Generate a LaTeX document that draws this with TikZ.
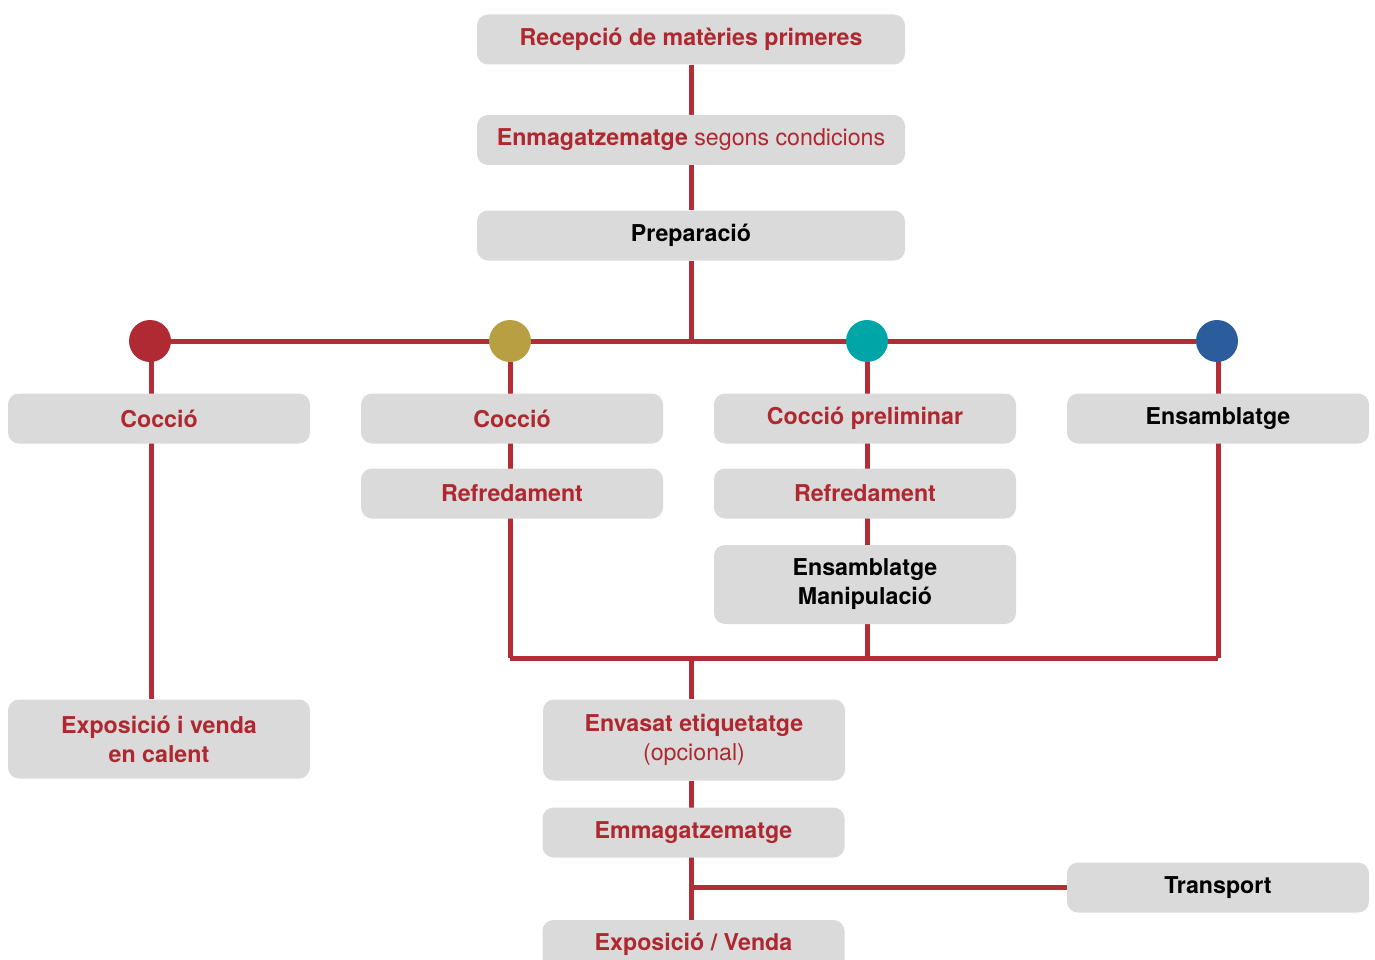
\documentclass[tikz,border=0pt]{standalone}
\usepackage{fontspec}
\setmainfont{TeX Gyre Heros}
\usetikzlibrary{backgrounds,calc}
\definecolor{linered}{HTML}{B22D35}
\definecolor{txtred}{HTML}{B0282F}
\definecolor{boxgray}{HTML}{DADADA}
\definecolor{dotred}{HTML}{B02A33}
\definecolor{dotolive}{HTML}{B8A042}
\definecolor{dotteal}{HTML}{00A5A8}
\definecolor{dotblue}{HTML}{2B5C9C}
\tikzset{
  stepbox/.style={fill=boxgray, rounded corners=11pt, inner sep=0pt, align=center,
    font=\fontsize{23.2}{29}\selectfont\bfseries},
  wide/.style={minimum width=428pt, minimum height=50pt},
  col/.style={minimum width=302pt, minimum height=50pt},
  tall/.style={minimum width=302pt, minimum height=79pt},
  redtxt/.style={text=txtred},
  blktxt/.style={text=black},
  dot/.style={circle, minimum size=42pt, inner sep=0pt},
  conn/.style={draw=linered, line width=5pt},
}
\begin{document}
\begin{tikzpicture}[x=1pt,y=-1pt]
\useasboundingbox (0,0) rectangle (1375,960);
\clip (0,0) rectangle (1375,960);
% top chain
\node[stepbox,wide,redtxt] (b1) at (691,39.5) {Recepció de matèries primeres};
\node[stepbox,wide,redtxt] (b2) at (691,140) {Enmagatzematge \mdseries segons condicions};
\node[stepbox,wide,blktxt] (b3) at (691,235.5) {Preparació};
% dots
\node[dot,fill=dotred] (d1) at (150,341) {};
\node[dot,fill=dotolive] (d2) at (510,341) {};
\node[dot,fill=dotteal] (d3) at (867,341) {};
\node[dot,fill=dotblue] (d4) at (1217,341) {};
% column 1
\node[stepbox,col,redtxt] (c1) at (159,418.5) {Cocció};
\node[stepbox,tall,redtxt] (c1x) at (159,739) {Exposició i venda\\en calent};
% column 2
\node[stepbox,col,redtxt] (c2a) at (512,418.5) {Cocció};
\node[stepbox,col,redtxt] (c2b) at (512,493.5) {Refredament};
% column 3
\node[stepbox,col,redtxt] (c3a) at (865,418.5) {Cocció preliminar};
\node[stepbox,col,redtxt] (c3b) at (865,493.5) {Refredament};
\node[stepbox,tall,blktxt] (c3c) at (865,584.5) {Ensamblatge\\Manipulació};
% column 4
\node[stepbox,col,blktxt] (c4) at (1218,418.5) {Ensamblatge};
% bottom chain
\coordinate (jl) at (510,658);
\coordinate (jm) at (691,658);
\node[stepbox,minimum width=302pt,minimum height=81pt,redtxt] (env) at (694,740) {Envasat etiquetatge\\\mdseries (opcional)};
\node[stepbox,col,redtxt] (emm) at (693.5,832.5) {Emmagatzematge};
\node[stepbox,col,blktxt] (tr) at (1218,887.5) {Transport};
\node[stepbox,col,redtxt,text depth=0pt] (exv) at (693.5,945) {\raisebox{7pt}{Exposició / Venda}};
\begin{pgfonlayer}{background}
  \draw[conn] (b1.south -| jm) -- (b3.north -| jm);
  \draw[conn] (b3.south -| jm) -- (jm |- d1);
  \draw[conn] (d1) -- (d4);
  \draw[conn] ([xshift=1pt]d1.center) -- ([xshift=1pt]d1.center |- c1x.north);
  \draw[conn] (d2) -- (d2 |- jl);
  \draw[conn] (d3) -- (d3 |- jl);
  \draw[conn] ([xshift=1pt]d4.center) -- ([xshift=1pt]d4.center |- jl);
  \draw[conn] (jl) -- ([xshift=1pt]d4.center |- jl);
  \draw[conn] (jm) -- (jm |- env.north);
  \draw[conn] (jm |- env.south) -- (jm |- exv.north);
  \draw[conn] (jm |- tr) -- (tr.west);
\end{pgfonlayer}
\end{tikzpicture}
\end{document}
